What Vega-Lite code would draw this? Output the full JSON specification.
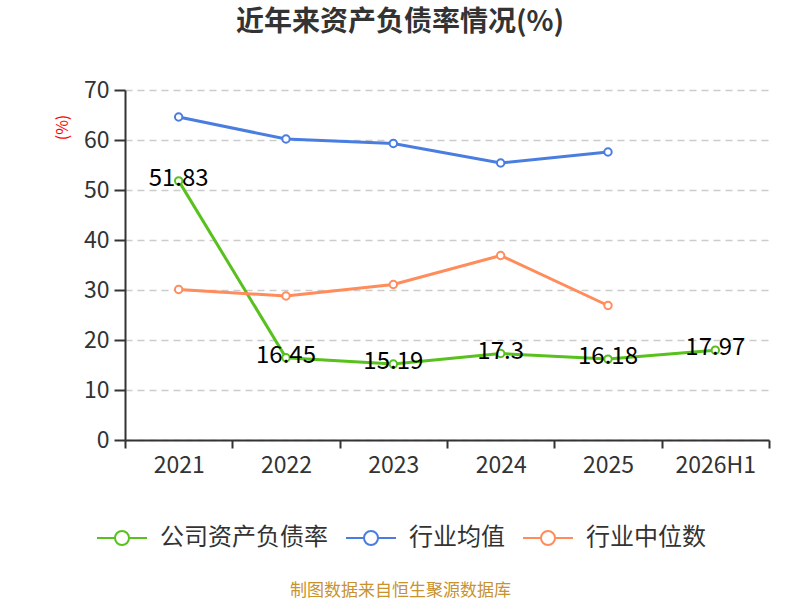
{
  "$schema": "https://vega.github.io/schema/vega-lite/v6.json",
  "autosize": "none",
  "padding": {"left": 125, "top": 90, "right": 31, "bottom": 160},
  "width": 644,
  "height": 350,
  "background": "white",
  "title": {
    "text": "近年来资产负债率情况(%)",
    "anchor": "middle",
    "frame": "group",
    "dx": -47,
    "offset": 42,
    "fontSize": 28,
    "fontWeight": "bold",
    "color": "#333333"
  },
  "data": {
    "values": [
      {"year": "2021", "series": "公司资产负债率", "value": 51.83},
      {"year": "2022", "series": "公司资产负债率", "value": 16.45},
      {"year": "2023", "series": "公司资产负债率", "value": 15.19},
      {"year": "2024", "series": "公司资产负债率", "value": 17.3},
      {"year": "2025", "series": "公司资产负债率", "value": 16.18},
      {"year": "2026H1", "series": "公司资产负债率", "value": 17.97},
      {"year": "2021", "series": "行业均值", "value": 64.6},
      {"year": "2022", "series": "行业均值", "value": 60.2},
      {"year": "2023", "series": "行业均值", "value": 59.3},
      {"year": "2024", "series": "行业均值", "value": 55.4},
      {"year": "2025", "series": "行业均值", "value": 57.6},
      {"year": "2021", "series": "行业中位数", "value": 30.1},
      {"year": "2022", "series": "行业中位数", "value": 28.8},
      {"year": "2023", "series": "行业中位数", "value": 31.1},
      {"year": "2024", "series": "行业中位数", "value": 36.9},
      {"year": "2025", "series": "行业中位数", "value": 26.9}
    ]
  },
  "encoding": {
    "x": {
      "field": "year",
      "type": "ordinal",
      "bandPosition": 0.5,
      "scale": {"type": "band", "paddingInner": 0, "paddingOuter": 0},
      "axis": {
        "tickBand": "extent",
        "labelAngle": 0,
        "labelFontSize": 23,
        "labelColor": "#333333",
        "labelPadding": 6,
        "domainColor": "#333333",
        "domainWidth": 2,
        "tickColor": "#333333",
        "tickWidth": 2,
        "tickSize": 8,
        "grid": false,
        "title": "制图数据来自恒生聚源数据库",
        "titleColor": "#c8922f",
        "titleFontSize": 17,
        "titleFontWeight": "normal",
        "titleX": 275,
        "titleY": 150,
        "titleAlign": "center",
        "titleBaseline": "middle"
      }
    },
    "y": {
      "field": "value",
      "type": "quantitative",
      "scale": {"domain": [0, 70]},
      "axis": {
        "values": [0, 10, 20, 30, 40, 50, 60, 70],
        "labelFontSize": 23,
        "labelColor": "#333333",
        "labelPadding": 5,
        "domainColor": "#333333",
        "domainWidth": 2,
        "tickColor": "#333333",
        "tickWidth": 2,
        "tickSize": 11,
        "gridColor": "#cccccc",
        "gridDash": [7, 5],
        "gridWidth": 1.5,
        "title": "(%)",
        "titleColor": "#ff0000",
        "titleFontSize": 16,
        "titleFontWeight": "normal",
        "titleX": -63,
        "titleY": 37,
        "titleAlign": "center",
        "titleBaseline": "middle"
      }
    },
    "color": {
      "field": "series",
      "type": "nominal",
      "scale": {
        "domain": ["公司资产负债率", "行业均值", "行业中位数"],
        "range": ["#58c11e", "#4a7de0", "#ff8c5a"]
      },
      "legend": {
        "orient": "none",
        "direction": "horizontal",
        "legendX": -15,
        "legendY": 436,
        "title": null,
        "symbolType": "M-2.5,0L-0.7,0M0.7,0L2.5,0M-0.7,0A0.7,0.7 0 1,0 0.7,0A0.7,0.7 0 1,0 -0.7,0",
        "symbolSize": 400,
        "symbolStrokeWidth": 2,
        "symbolFillColor": "white",
        "labelFontSize": 24,
        "labelColor": "#333333",
        "labelOffset": 26,
        "labelLimit": 300,
        "columnPadding": 14
      }
    }
  },
  "layer": [
    {
      "mark": {"type": "line", "strokeWidth": 3}
    },
    {
      "mark": {"type": "point", "filled": false, "fill": "white", "fillOpacity": 1, "opacity": 1, "size": 55, "strokeWidth": 2}
    },
    {
      "transform": [{"filter": "datum.series === '公司资产负债率'"}],
      "mark": {"type": "text", "fontSize": 24, "color": "#000000", "baseline": "middle", "align": "center", "dy": -2},
      "encoding": {
        "text": {"field": "value", "type": "quantitative"},
        "color": {"value": "#000000"}
      }
    }
  ],
  "config": {
    "font": "Noto Sans CJK SC",
    "view": {"stroke": null}
  }
}
